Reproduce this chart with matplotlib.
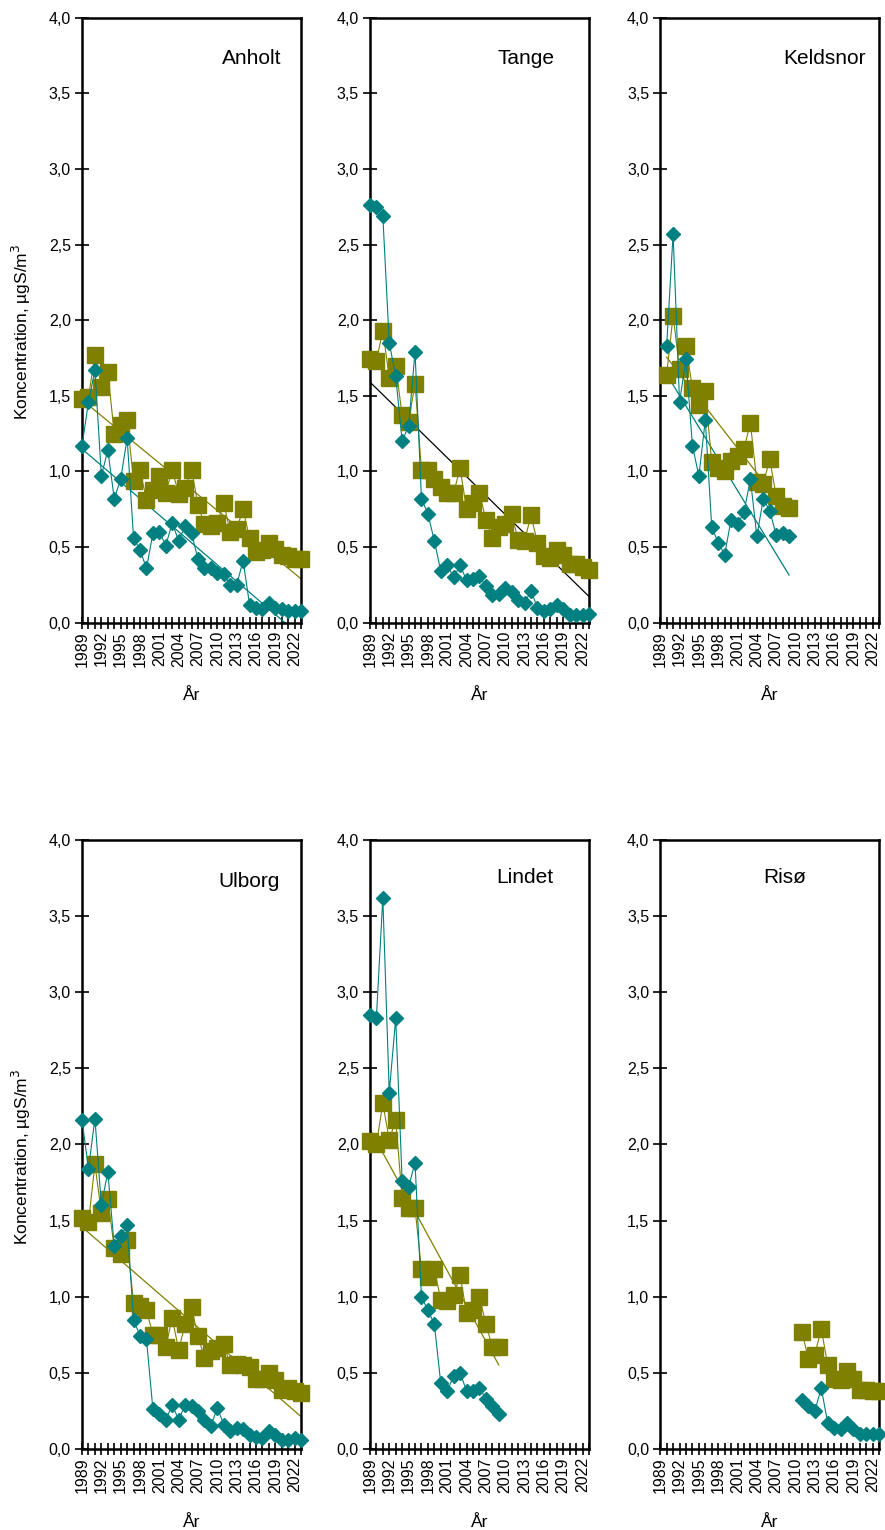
import numpy as np
import matplotlib
matplotlib.use("Agg")
import matplotlib.pyplot as plt
from matplotlib.ticker import MultipleLocator, FuncFormatter

plt.rcParams["font.family"] = ["Liberation Sans", "DejaVu Sans"]

# Stations, first year of data, diamond series (teal) and square series (olive)
stations = ["Anholt", "Tange", "Keldsnor", "Ulborg", "Lindet", "Risø"]
start_years = [1989, 1989, 1990, 1989, 1989, 2011]

anholt_teal = [1.17, 1.46, 1.67, 0.97, 1.14, 0.82, 0.95, 1.22, 0.56, 0.48, 0.36, 0.59,
               0.60, 0.51, 0.66, 0.54, 0.64, 0.59, 0.42, 0.36, 0.36, 0.33, 0.32, 0.25,
               0.25, 0.41, 0.12, 0.10, 0.09, 0.13, 0.10, 0.09, 0.08, 0.08, 0.08]
anholt_olive = [1.48, 1.49, 1.77, 1.56, 1.66, 1.25, 1.31, 1.34, 0.94, 1.01, 0.81, 0.88,
                0.97, 0.86, 1.01, 0.85, 0.89, 1.01, 0.78, 0.65, 0.64, 0.66, 0.79, 0.60,
                0.62, 0.75, 0.56, 0.47, 0.48, 0.53, 0.49, 0.45, 0.44, 0.42, 0.42]

tange_teal = [2.76, 2.75, 2.69, 1.85, 1.63, 1.20, 1.30, 1.79, 0.82, 0.72, 0.54, 0.34,
              0.38, 0.30, 0.38, 0.28, 0.29, 0.31, 0.24, 0.18, 0.19, 0.23, 0.20, 0.15,
              0.13, 0.21, 0.10, 0.08, 0.09, 0.12, 0.09, 0.05, 0.05, 0.05, 0.06]
tange_olive = [1.74, 1.73, 1.93, 1.62, 1.70, 1.37, 1.33, 1.58, 1.01, 1.01, 0.95, 0.90,
               0.86, 0.86, 1.02, 0.75, 0.79, 0.86, 0.68, 0.56, 0.63, 0.65, 0.72, 0.55,
               0.54, 0.71, 0.53, 0.44, 0.43, 0.48, 0.45, 0.39, 0.39, 0.37, 0.35]

keldsnor_teal = [1.83, 2.57, 1.46, 1.74, 1.17, 0.97, 1.34, 0.63, 0.53, 0.45, 0.68, 0.65,
                 0.73, 0.95, 0.57, 0.82, 0.74, 0.58, 0.59, 0.57]
keldsnor_olive = [1.64, 2.03, 1.68, 1.83, 1.55, 1.44, 1.53, 1.06, 1.02, 1.00, 1.07, 1.10,
                  1.15, 1.32, 0.93, 0.92, 1.08, 0.84, 0.77, 0.76]

ulborg_teal = [2.16, 1.84, 2.17, 1.60, 1.82, 1.33, 1.40, 1.47, 0.85, 0.74, 0.72, 0.26,
               0.23, 0.19, 0.29, 0.19, 0.29, 0.28, 0.25, 0.19, 0.15, 0.27, 0.16, 0.12,
               0.14, 0.13, 0.09, 0.08, 0.07, 0.12, 0.09, 0.06, 0.06, 0.07, 0.06]
ulborg_olive = [1.52, 1.49, 1.87, 1.55, 1.64, 1.32, 1.28, 1.37, 0.96, 0.94, 0.91, 0.75,
                0.75, 0.67, 0.86, 0.65, 0.82, 0.93, 0.74, 0.60, 0.64, 0.66, 0.69, 0.55,
                0.56, 0.55, 0.54, 0.46, 0.46, 0.50, 0.45, 0.39, 0.40, 0.38, 0.37]

lindet_teal = [2.85, 2.83, 3.62, 2.34, 2.83, 1.76, 1.72, 1.88, 1.00, 0.91, 0.82, 0.43,
               0.38, 0.48, 0.50, 0.38, 0.38, 0.40, 0.33, 0.28, 0.23]
lindet_olive = [2.02, 2.00, 2.27, 2.03, 2.16, 1.65, 1.58, 1.58, 1.18, 1.13, 1.18, 0.98,
                0.97, 1.01, 1.14, 0.89, 0.91, 1.00, 0.82, 0.67, 0.67]

riso_teal = [0.32, 0.28, 0.25, 0.40, 0.17, 0.14, 0.13, 0.17, 0.13, 0.10, 0.10, 0.10, 0.10]
riso_olive = [0.77, 0.59, 0.62, 0.79, 0.55, 0.46, 0.45, 0.51, 0.46, 0.39, 0.39, 0.38, 0.38]

teal_series = [anholt_teal, tange_teal, keldsnor_teal, ulborg_teal, lindet_teal, riso_teal]
olive_series = [anholt_olive, tange_olive, keldsnor_olive, ulborg_olive, lindet_olive, riso_olive]

# which trend lines are drawn (colour or None)
teal_trend = ["#008080", None, "#008080", None, None, None]
olive_trend = ["#808000", "black", "#808000", "#808000", "#808000", None]

first_year, last_year = 1989, 2023
label_years = list(range(1989, 2023, 3))

TEAL = "#008080"
OLIVE = "#808000"

fig = plt.figure(figsize=(8.85, 15.3), dpi=100)

# panel positions in figure fractions
lefts = [0.0927, 0.418, 0.746]
rows = [(0.593, 0.3955), (0.053, 0.398)]
width = 0.2475

title_pos = [(0.774, 0.932), (0.713, 0.932), (0.752, 0.932),
             (0.763, 0.931), (0.708, 0.938), (0.57, 0.939)]

comma = FuncFormatter(lambda v, p: ("%.1f" % v).replace(".", ","))

for i, name in enumerate(stations):
    r, c = divmod(i, 3)
    bottom, height = rows[r]
    ax = fig.add_axes([lefts[c], bottom, width, height])

    yrs = np.arange(start_years[i], start_years[i] + len(teal_series[i]))
    teal = np.array(teal_series[i])
    olive = np.array(olive_series[i])

    # trend lines (linear fit, as in the spreadsheet)
    if olive_trend[i]:
        k, m = np.polyfit(yrs, olive, 1)
        ax.plot([yrs[0], yrs[-1]], [k * yrs[0] + m, k * yrs[-1] + m],
                color=olive_trend[i], lw=0.9, zorder=2)
    if teal_trend[i]:
        k, m = np.polyfit(yrs, teal, 1)
        ax.plot([yrs[0], yrs[-1]], [k * yrs[0] + m, k * yrs[-1] + m],
                color=teal_trend[i], lw=0.9, zorder=2)

    ax.plot(yrs, olive, color=OLIVE, lw=0.8, marker="s", ms=12,
            mec=OLIVE, mfc=OLIVE, zorder=3, clip_on=False)
    ax.plot(yrs, teal, color=TEAL, lw=0.8, marker="D", ms=7.5,
            mec=TEAL, mfc=TEAL, zorder=4, clip_on=False)

    ax.set_xlim(first_year, last_year)
    ax.set_ylim(0, 4)

    ax.set_xticks(label_years)
    ax.set_xticks(range(first_year, last_year + 1), minor=True)
    ax.set_xticklabels([str(y) for y in label_years], rotation=90, fontsize=11.5)
    ax.tick_params(axis="x", which="both", direction="inout", length=8, width=1.2, pad=2)
    ax.yaxis.set_major_locator(MultipleLocator(0.5))
    ax.yaxis.set_major_formatter(comma)
    ax.tick_params(axis="y", direction="inout", length=10, width=1.2, labelsize=11.5, pad=3)

    for s in ax.spines.values():
        s.set_linewidth(1.8)

    ax.text(title_pos[i][0], title_pos[i][1], name, transform=ax.transAxes,
            ha="center", va="center", fontsize=15)

    ax.set_xlabel("År", fontsize=12.5)
    ax.xaxis.set_label_coords(0.5, -0.108)
    if c == 0:
        ax.set_ylabel("Koncentration, µgS/m$^3$", fontsize=12.5)
        ax.yaxis.set_label_coords(-0.225, 0.48)

fig.savefig("out.png", dpi=100)
